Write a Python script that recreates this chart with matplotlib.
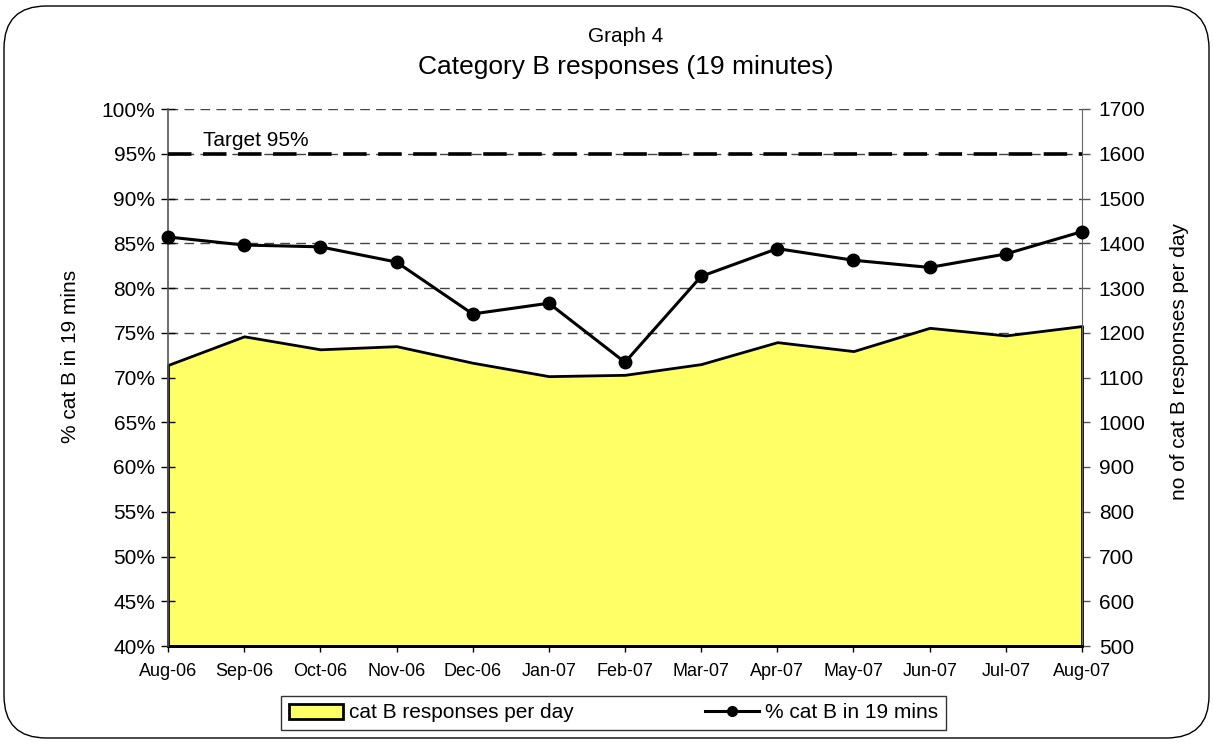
import matplotlib
matplotlib.use("Agg")
import matplotlib.pyplot as plt
from matplotlib.patches import FancyBboxPatch, Patch
from matplotlib.lines import Line2D
from matplotlib.ticker import FuncFormatter

plt.rcParams['font.family'] = ['Liberation Sans', 'DejaVu Sans']

months = ["Aug-06", "Sep-06", "Oct-06", "Nov-06", "Dec-06", "Jan-07", "Feb-07",
          "Mar-07", "Apr-07", "May-07", "Jun-07", "Jul-07", "Aug-07"]
responses_per_day = [1128, 1192, 1163, 1170, 1133, 1103, 1106, 1130, 1179, 1159, 1211, 1194, 1215]
pct_in_19 = [85.7, 84.8, 84.6, 82.9, 77.1, 78.3, 71.7, 81.3, 84.4, 83.1, 82.3, 83.8, 86.3]
target_pct = 95
pct_ticks = [40, 45, 50, 55, 60, 65, 70, 75, 80, 85, 90, 95, 100]
count_ticks = [500, 600, 700, 800, 900, 1000, 1100, 1200, 1300, 1400, 1500, 1600, 1700]

W, H = 1213, 742
fig = plt.figure(figsize=(W / 100, H / 100), dpi=100)

# rounded border
border = FancyBboxPatch((4 / W, 4 / H), 1205 / W, 732 / H,
                        boxstyle="round,pad=0,rounding_size=0.035",
                        transform=fig.transFigure, fill=False,
                        edgecolor='black', linewidth=1.0, mutation_aspect=W / H)
fig.patches.append(border)

left, right, top, bottom = 168 / W, 1082 / W, 1 - 109 / H, 1 - 646 / H
ax = fig.add_axes([left, bottom, right - left, top - bottom])
ax2 = ax.twinx()
x = list(range(len(months)))

# area (right axis) on main axes
ax.set_ylim(500, 1700)
ax.set_xlim(0, len(months) - 1)
ax.set_yticks(count_ticks)
ax.yaxis.tick_right()
ax.yaxis.set_label_position('right')
ax.set_axisbelow(True)
ax.grid(axis='y', color='#444444', linewidth=1.0, linestyle=(0, (7, 4.5)), zorder=0)
ax.fill_between(x, 500, responses_per_day, facecolor='#FFFF66', edgecolor='black',
                linewidth=2.0, zorder=2, clip_on=False)
ax.set_xticks(x)
ax.set_xticklabels(months, fontsize=13)
ax.tick_params(axis='x', direction='inout', length=9, width=1, color='black', pad=8)
ax.tick_params(axis='y', direction='out', length=6, width=1, color='#555555',
               labelsize=15, pad=6)
for s in ['top', 'left']:
    ax.spines[s].set_visible(False)
ax.spines['right'].set_color('#666666')
ax.spines['bottom'].set_color('black')
ax.spines['bottom'].set_linewidth(2)
ax.set_ylabel("no of cat B responses per day", fontsize=15)
ax.yaxis.set_label_coords(1.0 + 88 / 914, 0.53)

# percent axis
ax2.set_ylim(40, 100)
ax2.set_yticks(pct_ticks)
ax2.yaxis.tick_left()
ax2.yaxis.set_label_position('left')
ax2.yaxis.set_major_formatter(FuncFormatter(lambda v, p: f"{v:.0f}%"))
ax2.tick_params(axis='y', direction='inout', length=10, width=1, color='black',
                labelsize=15, pad=4)
for s in ['top', 'right', 'bottom']:
    ax2.spines[s].set_visible(False)
ax2.spines['left'].set_color('#555555')
ax2.spines['left'].set_linewidth(1.2)
ax2.set_ylabel("% cat B in 19 mins", fontsize=15)
ax2.yaxis.set_label_coords(-88 / 914, 0.54)

tl = ax2.axhline(target_pct, color='black', linewidth=2.6, zorder=3)
tl.set_dashes((6.5, 3.2))
ax2.text(0.46, target_pct + 0.45, "Target 95%", fontsize=15, ha='left', va='bottom')

ax2.plot(x, pct_in_19, color='black', linewidth=2.2, marker='o', markersize=9,
         zorder=5, clip_on=False)

fig.text(626 / W, 1 - 37 / H, "Graph 4", fontsize=15, ha='center', va='center')
fig.text(626 / W, 1 - 67 / H, "Category B responses (19 minutes)", fontsize=19,
         ha='center', va='center')

handles = [Patch(facecolor='#FFFF66', edgecolor='black', linewidth=2),
           Line2D([0], [0], color='black', linewidth=2.2, marker='o', markersize=7)]
leg = fig.legend(handles, ["cat B responses per day", "% cat B in 19 mins"],
                 loc='center', bbox_to_anchor=((272 + 955) / 2 / W, 1 - 713 / H),
                 ncol=2, fontsize=15, frameon=True, fancybox=False,
                 edgecolor='black', columnspacing=6.3, handlelength=2.6,
                 handletextpad=0.3, borderpad=0.35)
leg.get_frame().set_linewidth(1.0)

fig.savefig("out.png", dpi=100)
